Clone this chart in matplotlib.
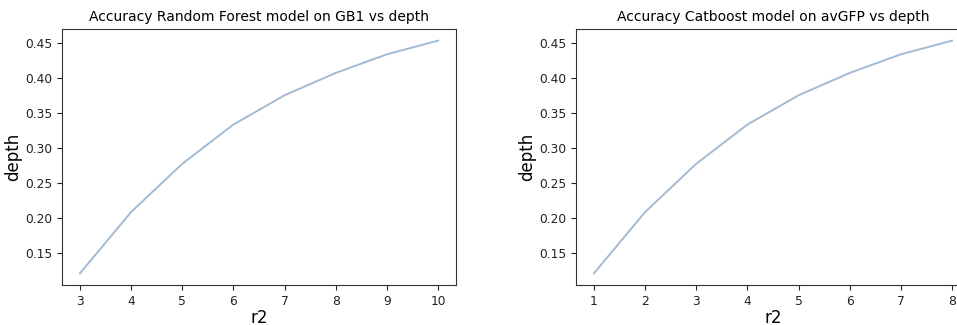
import matplotlib
matplotlib.use("Agg")

import matplotlib.pyplot as plt

# depth values (same curve in both panels)
rf_depth = [3, 4, 5, 6, 7, 8, 9, 10]
rf_r2 = [0.1215, 0.209, 0.278, 0.334, 0.3758, 0.4077, 0.4343, 0.4538]

cb_depth = [1, 2, 3, 4, 5, 6, 7, 8]
cb_r2 = [0.1215, 0.209, 0.278, 0.334, 0.3758, 0.4077, 0.4343, 0.4538]

LINE_COLOR = "#a3bad3"

fig = plt.figure(figsize=(9.57, 3.25), dpi=100)
W, H = 957, 325
ax1 = fig.add_axes([62 / W, 1 - 285 / H, 394 / W, 256 / H])
ax2 = fig.add_axes([576 / W, 1 - 285 / H, 394 / W, 256 / H])

panels = [
    (ax1, rf_depth, rf_r2, "Accuracy Random Forest model on GB1 vs depth"),
    (ax2, cb_depth, cb_r2, "Accuracy Catboost model on avGFP vs depth"),
]
for ax, xs, ys, title in panels:
    ax.plot(xs, ys, color=LINE_COLOR, linewidth=1.4)
    ax.set_title(title, fontsize=10)
    ax.set_xlabel("r2", fontsize=12, labelpad=1)
    ax.set_ylabel("depth", fontsize=12, labelpad=2)
    ax.tick_params(labelsize=8.8, colors="#222222")
    for sp in ax.spines.values():
        sp.set_color("#333333")

fig.savefig("out.png", dpi=100)
